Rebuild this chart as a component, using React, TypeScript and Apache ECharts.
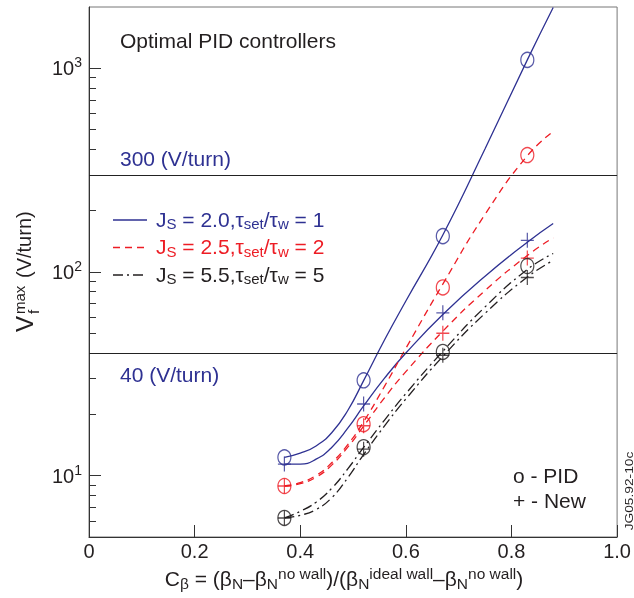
import React, { useEffect, useRef } from 'react';
import * as echarts from 'echarts';

const FONT = "'Liberation Sans', Arial, Helvetica, sans-serif";
const BLUE = '#2e3192';
const RED = '#ed1c24';
const BLACK = '#231f20';

// Marker positions (C_beta) and values (V/turn)
const markerX = [0.37, 0.52, 0.67, 0.83];
const pidJ20 = [12.3, 29.4, 150, 1100];
const newJ20 = [11.4, 22.5, 63, 143];
const pidJ25 = [8.9, 17.9, 84, 375];
const newJ25 = [8.9, 17.6, 50, 117];
const pidJ55 = [6.2, 13.8, 40.5, 107];
const newJ55 = [6.2, 13.5, 39, 94];

// Fitted curves (shared C_beta samples)
const curveX = [0.37, 0.40, 0.43, 0.46, 0.49, 0.52, 0.56, 0.60, 0.67, 0.75, 0.83, 0.879];
const curvePidJ20 = [12.3, 12.9, 14.0, 16.3, 20.9, 29.3, 46.6, 72, 152, 403, 1100, 1990];
const curveNewJ20 = [11.4, 11.4, 12.05, 13.8, 17.1, 22.0, 30.2, 40.0, 61.8, 95.3, 140, 173];
const curvePidJ25 = [8.9, 9.24, 10.03, 11.6, 14.2, 18.4, 27.6, 42.2, 87.2, 192, 372, 490];
const curveNewJ25 = [8.9, 9.14, 9.83, 11.3, 13.8, 17.5, 24.2, 32.4, 51.2, 81.1, 120.5, 147.2];
const curvePidJ55 = [6.2, 6.68, 7.41, 8.69, 10.8, 13.76, 18.8, 25.3, 40.8, 67.4, 102.9, 123.3];
const curveNewJ55 = [6.2, 6.39, 6.82, 7.81, 9.77, 12.7, 17.6, 23.8, 38.5, 62.7, 94.4, 114];

// Reference levels
const refLevels = [300, 40];
const refLabels = ['300 (V/turn)', '40 (V/turn)'];

// Axis ticks
const xTicks = { min: 0, max: 1, interval: 0.2 };
const yMajorTicks = [10, 100, 1000];
const yMinorTicks = [6, 7, 8, 9, 20, 30, 40, 50, 60, 70, 80, 90, 200, 300, 400, 500, 600, 700, 800, 900];
const yRange = { min: 5, max: 2000 };

const legendLabels = [
  'J{sub|S} = 2.0,τ{sub|set}/τ{sub|w} = 1',
  'J{sub|S} = 2.5,τ{sub|set}/τ{sub|w} = 2',
  'J{sub|S} = 5.5,τ{sub|set}/τ{sub|w} = 5',
];

const zip = (xs: number[], ys: number[]) => xs.map((x, i) => [x, ys[i]]);

const DASH: any = [7, 5];
const DASHDOT: any = [10, 4, 2, 4];

const curve = (ys: number[], color: string, type: any, extra: any = {}) => ({
  type: 'line',
  data: zip(curveX, ys),
  smooth: 0.5,
  showSymbol: false,
  symbol: 'none',
  silent: true,
  z: 2,
  lineStyle: { color, width: 1.3, type },
  ...extra,
});

const circles = (ys: number[], color: string) => ({
  type: 'scatter',
  data: zip(markerX, ys),
  symbol: 'circle',
  symbolSize: [13, 15],
  silent: true,
  z: 3,
  itemStyle: { color: 'rgba(0,0,0,0)', borderColor: color, borderWidth: 1.3 },
});

const pluses = (ys: number[], color: string) => ({
  type: 'scatter',
  data: zip(markerX, ys),
  symbol: 'path://M6,0L6,14M0,7L12,7',
  symbolSize: [13, 15],
  silent: true,
  z: 3,
  itemStyle: { color: 'none', borderColor: color, borderWidth: 1.3 },
});

const subRich = {
  sub: { fontSize: 15.5, padding: [9, 0, 0, 0], fontFamily: FONT },
  sup: { fontSize: 15.5, padding: [0, 0, 10, 0], fontFamily: FONT },
};

export default function App() {
  const ref = useRef<HTMLDivElement>(null);
  useEffect(() => {
    const chart = echarts.init(ref.current!, null, { renderer: 'svg' });
    const legendColors = [BLUE, RED, BLACK];
    const legendTypes: any[] = ['solid', DASH, DASHDOT];
    const legendY = [220, 247.5, 275];
    const graphic: any[] = [
      {
        type: 'text', x: 120, y: 40,
        style: { text: 'Optimal PID controllers', fontSize: 21, fontFamily: FONT, fill: BLACK, verticalAlign: 'middle' },
      },
      {
        type: 'text', x: 513, y: 475,
        style: { text: 'o - PID', fontSize: 21, fontFamily: FONT, fill: BLACK, verticalAlign: 'middle' },
      },
      {
        type: 'text', x: 513, y: 500,
        style: { text: '+ - New', fontSize: 21, fontFamily: FONT, fill: BLACK, verticalAlign: 'middle' },
      },
      {
        type: 'text', x: 629, y: 491, rotation: Math.PI / 2, scaleX: 1.25,
        style: { text: 'JG05.92-10c', fontSize: 11, fontFamily: FONT, fill: BLACK, align: 'center', verticalAlign: 'middle' },
      },
      {
        type: 'group', x: 24, y: 272, rotation: Math.PI / 2,
        children: [
          { type: 'text', x: -60, y: 0, style: { text: 'V', fontSize: 24, fontFamily: FONT, fill: BLACK, verticalAlign: 'middle' } },
          { type: 'text', x: -42, y: -5, style: { text: 'max', fontSize: 15, fontFamily: FONT, fill: BLACK, verticalAlign: 'middle' } },
          { type: 'text', x: -42, y: 9, style: { text: 'f', fontSize: 15, fontFamily: FONT, fill: BLACK, verticalAlign: 'middle' } },
          { type: 'text', x: -6, y: 0, style: { text: '(V/turn)', fontSize: 20, fontFamily: FONT, fill: BLACK, verticalAlign: 'middle' } },
        ],
      },
    ];
    legendLabels.forEach((lab, i) => {
      graphic.push({
        type: 'line',
        shape: { x1: 113, y1: legendY[i], x2: 147, y2: legendY[i] },
        style: { stroke: legendColors[i], lineWidth: 1.3, lineDash: legendTypes[i] === 'solid' ? null : legendTypes[i] },
      });
      graphic.push({
        type: 'text', x: 156, y: legendY[i] - 1,
        style: {
          text: lab, fontSize: 21, fontFamily: FONT, fill: legendColors[i], verticalAlign: 'middle',
          rich: {
            sub: { fontSize: 15, padding: [9, 0, 0, 0], fontFamily: FONT, fill: legendColors[i] },
          },
        },
      });
    });

    const option: any = {
      animation: false,
      textStyle: { fontFamily: FONT },
      grid: { left: 89, right: 15, top: 7, bottom: 61, show: true, borderColor: '#777', borderWidth: 1, backgroundColor: 'transparent' },
      xAxis: {
        type: 'value',
        min: xTicks.min, max: xTicks.max, interval: xTicks.interval,
        axisLine: { show: true, lineStyle: { color: '#333', width: 1 } },
        axisTick: { show: true, inside: true, length: 12, lineStyle: { color: '#333' } },
        axisLabel: { color: BLACK, fontSize: 20, margin: 4, fontFamily: FONT, formatter: (v: number) => (v === 0 ? '0' : v.toFixed(1)) },
        splitLine: { show: false },
        name: 'C{sub|β} = (β{sub|N}–β{sub|N}{sup|no wall})/(β{sub|N}{sup|ideal wall}–β{sub|N}{sup|no wall})',
        nameLocation: 'middle',
        nameGap: 27,
        nameTextStyle: { color: BLACK, fontSize: 21, fontFamily: FONT, padding: [0, 18, 0, 0], rich: subRich },
      },
      yAxis: [
        {
          type: 'log', logBase: 10, min: yRange.min, max: yRange.max,
          axisLine: { show: true, lineStyle: { color: '#333', width: 1 } },
          axisTick: { show: true, inside: true, length: 12, lineStyle: { color: '#333' }, customValues: yMajorTicks },
          axisLabel: {
            color: BLACK, fontSize: 20, margin: 7, fontFamily: FONT, customValues: yMajorTicks,
            formatter: (v: number) => `10{sup|${Math.round(Math.log10(v))}}`,
            rich: { sup: { fontSize: 14, padding: [0, 0, 12, 0], fontFamily: FONT, color: BLACK } },
          },
          splitLine: { show: false },
        },
        {
          type: 'log', logBase: 10, min: yRange.min, max: yRange.max, position: 'left',
          axisLine: { show: false },
          axisTick: { show: true, inside: true, length: 7, lineStyle: { color: '#333' }, customValues: yMinorTicks },
          axisLabel: { show: false },
          splitLine: { show: false },
        },
      ],
      series: [
        curve(curvePidJ20, BLUE, 'solid', {
          markLine: {
            silent: true, symbol: 'none',
            lineStyle: { color: '#222', width: 1, type: 'solid' },
            data: refLevels.map((lv, i) => ({
              yAxis: lv,
              label: {
                show: true, formatter: refLabels[i], color: BLUE, fontSize: 21, fontFamily: FONT,
                position: i === 0 ? 'insideStartTop' : 'insideStartBottom',
                distance: i === 0 ? [31, 6] : [31, 11],
              },
            })),
          },
        }),
        curve(curveNewJ20, BLUE, 'solid'),
        curve(curvePidJ25, RED, DASH),
        curve(curveNewJ25, RED, DASH),
        curve(curvePidJ55, BLACK, DASHDOT),
        curve(curveNewJ55, BLACK, DASHDOT),
        circles(pidJ20, BLUE),
        pluses(newJ20, BLUE),
        circles(pidJ25, RED),
        pluses(newJ25, RED),
        circles(pidJ55, BLACK),
        pluses(newJ55, BLACK),
      ],
      graphic,
    };
    chart.setOption(option);
    return () => chart.dispose();
  }, []);
  return <div ref={ref} style={{ position: 'fixed', left: 0, top: 0, width: 634, height: 598 }} />;
}
